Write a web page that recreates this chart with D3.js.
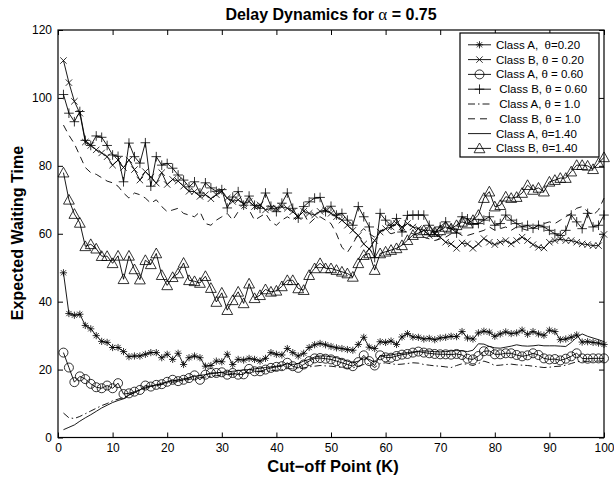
<!DOCTYPE html>
<html><head><meta charset="utf-8">
<script src="https://cdn.jsdelivr.net/npm/d3@7"></script>
<style>
body{margin:0;background:#fff;}
svg text{font-family:"Liberation Sans",Arial,sans-serif;}
</style></head>
<body><svg id="c" width="614" height="480"></svg>
<script>
const K = d3.range(1, 101);
const xTicks = [0,10,20,30,40,50,60,70,80,90,100];
const yTicks = [0,20,40,60,80,100,120];

const classA020 = [48.5,36.5,36,36.3,33,32,30,28.3,28,26.5,26.5,25.3,23.8,24,24,24.5,25,25,23.5,24.5,23,24.8,21.5,23.5,24,23.5,21,21.2,22.5,22.3,24.5,21.5,23,22.8,23.3,23,22.5,23.3,25,24.5,24.3,26.2,25,24,24.8,26.5,27.3,27.7,27.3,26.8,26.4,26.2,25.9,25.7,27.4,29.5,26.6,26.2,28.2,28,28.4,27.4,29.6,30.6,29.6,29.5,29,29.2,28.8,29.3,29.5,29.8,29.7,31.2,29.3,29,30.8,31.3,31,29.8,30.5,31.1,30.6,30.8,31.6,30.4,31.2,30.5,30.1,31.6,31.2,28.8,29,29.5,30.2,28.1,28.2,28,27.8,27.4];
const classB020 = [111,104.5,99,95.5,87,86,84.7,83.8,82.7,80.2,81.7,79.5,81.7,78.9,75.8,78.3,76.7,74.9,78,74.5,76,75.5,74,72.5,72.4,71,71.5,70.3,71.5,72.5,70.5,69.5,70,68.8,69.5,68,68.5,67,67.5,67.5,68,67.5,66.5,65,66.6,66,65.5,66.6,67,66,65,64,62.5,61,59.5,57,55.5,58,60.5,61.5,62,63,62,63,62,61.5,61,59.5,60,59,57.5,57,55.7,57.3,57,55.7,57,58.6,57.5,56.8,57.5,58,57,58,59,58,56.8,56,55.8,57.5,58,58.5,58,58,57.5,57,56.8,56.5,56.5,59.8];
const classA060 = [25,20.6,16.3,18,17.2,15.8,14.8,14.5,15.3,14.5,16,12.8,13,13.5,14,15.3,15,15.5,15.7,16.4,17,16.6,17,17.5,18.3,17,18.5,19,19,19.2,18.5,19,18.5,18.6,20.2,19.5,19.5,20,20.5,20.8,21,22,21,20.5,21.5,22.5,23.3,23.4,23.2,23,22.5,22,21.5,21,22.2,24.2,22.5,21.2,24.2,23.6,23.5,24,24.4,24.6,25,25.3,25,24.8,24.6,24.5,24.5,24.4,24.6,24.3,23.2,23,24,25.4,25.5,24.5,24.5,24.8,24.8,24.3,23.9,24.2,24.8,24.3,23.3,23,23.1,22.7,23.2,23.9,24.8,23.3,23.2,23.3,23.3,23.3];
const classB060 = [101,95.5,93,96,87.5,86,88.8,88.4,86,83.2,82.8,75.3,86.7,82.7,80.8,86.8,74,82.7,80.2,80.7,79.3,77.3,75.8,73.8,75.3,72,75,73.5,72.5,73,67.6,70.8,72.4,68.4,71.1,68.4,67.5,72,68.1,66.5,69,72,67.5,64.6,68,69.4,70.5,70.7,66.5,68.1,65.5,66,64,62.5,68,65,62,53,66,64,62.5,64.5,60.5,65.4,65.5,65.5,65.5,62.5,60.5,62,63.5,61.6,60.2,65,64.4,63,63,64,65,62.5,63,65.5,64,63,62,62.5,61.6,62.5,62,61,60,59.5,61,65.5,63.5,61.5,66,62,62.5,65.5];
const classA100 = [7.2,5.8,5.6,6.2,7,7.8,8.6,9.4,10,10.8,11.3,11.8,12.6,13.2,13.9,14.5,14.9,15.2,15.6,16,16.3,16.5,16.8,17.1,17.4,17.6,17.8,18,18.2,18.4,18.5,18.6,18.8,19,19.1,19.3,19.4,19.5,19.7,19.8,20,20.3,20.2,20.3,20.5,20.8,21,21.2,21.1,21,20.8,20.6,20.4,20.5,21,21.5,21.8,20.6,21.8,22,21.7,21.5,21.6,21.8,22,21.9,21.5,21.3,21.1,21,20.8,20.6,21.2,21.7,21.6,21.2,21.8,22.5,22,21.2,21.3,21.5,21.6,21.4,21.3,21.2,21,20.8,20.6,20.7,20.9,21,21.3,21.8,22.3,22.5,22.4,22.5,22.5,22.5];
const classB100 = [92,89,86.5,83,79.5,78,77.5,76.5,75.5,75,74,72,70.5,72,71.5,70.5,69,70,68,66.5,67,67.5,66,65.5,65,66.5,63,62.5,64,65,66,64,66.5,68,67,64,65,66,63.5,62.5,64,65,64,65.5,66,63,64.5,65,64,63,60,56,54.5,57,60,61.5,60,59,61,61,60,60.5,61,60.5,60,59.5,59,58.5,58,58.5,59,60,60.5,59.5,59.5,60,60.5,61,62,61,61.5,62,61,62,61.5,61,61.5,62.5,63,63.5,63,64,65,66,67.5,68,66.5,65.5,67,70.5];
const classA140 = [2.3,3,3.7,4.8,5.8,6.7,7.7,8.7,9.5,10.3,10.9,11.4,12.5,13.2,14,14.8,15.2,15.5,16,16.3,16.7,17,17.3,17.6,18,18.3,18.5,18.8,19,19.2,19.3,19.5,19.7,19.9,20,20.2,20.4,20.6,20.8,21,21.3,21.7,21.5,21.8,22.5,23,23.7,24,24,23.8,23.5,23,22.5,22,22.5,23.5,23,22.2,24,24.2,24.3,24.6,24.8,25,25.2,25.4,25.5,25.4,25.3,25.2,25.3,25.5,25.6,25.5,25.3,25.7,27.6,27.5,26.8,26.4,26.3,26.6,26.9,27.3,27,26.9,27,27.2,27,27,27,26.9,26.8,28,29.5,30.5,29.8,29.3,28.8,28.2];
const classB140 = [78,70,65.8,63.2,56.3,56.9,55.6,53.4,53.4,51.3,53.5,46.6,53.5,49.5,46.5,52.2,51,54.2,47.8,44.8,47.2,48.3,51.4,46.3,46,45.5,47.5,44,39.9,42.6,37.5,40.4,42.9,39.5,45.3,41,41.9,43.6,42.9,43.2,44.5,46.3,46.3,43.9,43.4,47.8,49.8,51.3,49.8,49.8,49.3,48.8,48.3,47.3,51.3,53.7,54.2,49.3,54.2,54.7,55.2,55.7,56.6,58.1,59.6,60.2,61,61,60.5,61,62,61.5,62.5,63.5,63,64,65.5,70.5,72.4,68,68.4,70.9,70.5,70.8,72,74.3,72.9,73.5,72.4,75.3,75.8,76.4,76.4,78.3,80.2,80.2,80,79,80.8,82.5];

const labels = ["Class A,  \u03b8=0.20","Class B, \u03b8 = 0.20","Class A, \u03b8 = 0.60"," Class B, \u03b8 = 0.60"," Class A, \u03b8 = 1.0"," Class B, \u03b8 = 1.0","Class A, \u03b8=1.40","Class B, \u03b8=1.40"];
const allValues = [classA020,classB020,classA060,classB060,classA100,classB100,classA140,classB140];
const styles = [
  {marker:"asterisk",dash:null},
  {marker:"times",dash:null},
  {marker:"circle",dash:null},
  {marker:"plus",dash:null},
  {marker:null,dash:"7,3,1.5,3"},
  {marker:null,dash:"7,5"},
  {marker:null,dash:null},
  {marker:"triangle",dash:null}
];

const svg = d3.select("#c");
const L=58,R=604,T=30,B=437.5;
const x = d3.scaleLinear().domain([0,100]).range([L,R]);
const y = d3.scaleLinear().domain([0,120]).range([B,T]);

function markerPath(type){
  switch(type){
    case "asterisk": {const a=3.6,b=2.6; return `M${-a},0H${a}M0,${-a}V${a}M${-b},${-b}L${b},${b}M${-b},${b}L${b},${-b}`;}
    case "times": {const a=3.2; return `M${-a},${-a}L${a},${a}M${-a},${a}L${a},${-a}`;}
    case "plus": {const a=4.8; return `M${-a},0H${a}M0,${-a}V${a}`;}
    case "circle": {const r=4.5; return `M${r},0A${r},${r} 0 1,1 ${-r},0A${r},${r} 0 1,1 ${r},0Z`;}
    case "triangle": {const h=5.4; return `M0,${-h}L${h},${h*0.8}L${-h},${h*0.8}Z`;}
  }
  return "";
}

const line = d3.line().x((d,i)=>x(K[i])).y(d=>y(d));
const plot = svg.append("g");
allValues.forEach((vals,si)=>{
  const st = styles[si];
  plot.append("path").attr("d",line(vals)).attr("fill","none").attr("stroke","#000")
    .attr("stroke-width",0.9).attr("stroke-dasharray",st.dash);
  if(st.marker){
    plot.append("g").selectAll("path").data(vals).join("path")
      .attr("transform",(d,i)=>`translate(${x(K[i])},${y(d)})`)
      .attr("d",markerPath(st.marker)).attr("fill","none").attr("stroke","#000").attr("stroke-width",0.8);
  }
});

// axes (inward ticks, box)
const axFont = g=>g.selectAll("text").attr("font-size",12).attr("fill","#000").style("font-family","'Liberation Sans',Arial,sans-serif");
svg.append("g").attr("transform",`translate(0,${B})`).call(d3.axisBottom(x).tickValues(xTicks).tickSize(-5).tickPadding(5.5)).call(axFont).call(g=>g.select(".domain").remove());
svg.append("g").attr("transform",`translate(0,${T})`).call(d3.axisTop(x).tickValues(xTicks).tickSize(-5).tickFormat("")).call(g=>g.select(".domain").remove());
svg.append("g").attr("transform",`translate(${L},0)`).call(d3.axisLeft(y).tickValues(yTicks).tickSize(-5).tickPadding(6)).call(axFont).call(g=>g.select(".domain").remove());
svg.append("g").attr("transform",`translate(${R},0)`).call(d3.axisRight(y).tickValues(yTicks).tickSize(-5).tickFormat("")).call(g=>g.select(".domain").remove());
svg.selectAll(".tick line").attr("stroke","#000");
svg.append("rect").attr("x",L).attr("y",T).attr("width",R-L).attr("height",B-T).attr("fill","none").attr("stroke","#000").attr("stroke-width",1.2);

// title and labels
const title = svg.append("text").attr("x",331).attr("y",20).attr("text-anchor","middle").attr("font-size",16).attr("font-weight","bold");
title.append("tspan").text("Delay Dynamics for ");
title.append("tspan").text("\u03b1").attr("font-weight","normal").style("font-family","'Liberation Serif',serif").attr("font-size",17);
title.append("tspan").text(" = 0.75");
svg.append("text").attr("x",333).attr("y",472).attr("text-anchor","middle").attr("font-size",16.5).attr("font-weight","bold").text("Cut\u2212off Point (K)");
svg.append("text").attr("transform","translate(23,233) rotate(-90)").attr("text-anchor","middle").attr("font-size",16).attr("font-weight","bold").text("Expected Waiting Time");

// legend
const lg = svg.append("g");
lg.append("rect").attr("x",460).attr("y",33).attr("width",139).attr("height",124).attr("fill","#fff").attr("stroke","#000").attr("stroke-width",1.2);
labels.forEach((lab,i)=>{
  const cy = 44.8 + i*14.8;
  const st = styles[i];
  lg.append("line").attr("x1",468).attr("x2",491).attr("y1",cy).attr("y2",cy).attr("stroke","#000").attr("stroke-width",0.9).attr("stroke-dasharray",st.dash);
  if(st.marker) lg.append("path").attr("transform",`translate(479.5,${cy})`).attr("d",markerPath(st.marker)).attr("fill","none").attr("stroke","#000").attr("stroke-width",0.8);
  lg.append("text").attr("x",496).attr("y",cy+4).attr("font-size",11.5).style("white-space","pre").text(lab);
});
</script></body></html>
